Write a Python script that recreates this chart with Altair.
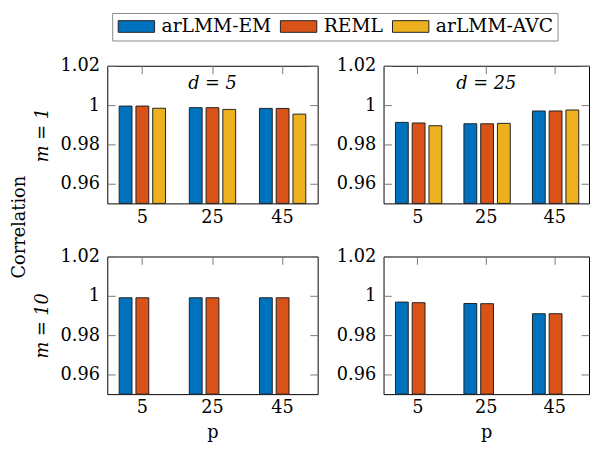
import altair as alt
import pandas as pd

FONT = "DejaVu Serif"
FS = 18
LFS = 19

p_vals = ["5", "25", "45"]
methods = ["arLMM-EM", "REML", "arLMM-AVC"]
colors = ["#0072BD", "#D95319", "#EDB120"]

# m = 1, d = 5
m1_d5_em = [0.9995, 0.9987, 0.9983]
m1_d5_reml = [0.9995, 0.9987, 0.9983]
m1_d5_avc = [0.9984, 0.9978, 0.9954]
# m = 1, d = 25
m1_d25_em = [0.9912, 0.9905, 0.9970]
m1_d25_reml = [0.9909, 0.9905, 0.9970]
m1_d25_avc = [0.9895, 0.9907, 0.9975]
# m = 10, d = 5
m10_d5_em = [0.9990, 0.9990, 0.9990]
m10_d5_reml = [0.9990, 0.9990, 0.9990]
# m = 10, d = 25
m10_d25_em = [0.9968, 0.9961, 0.9909]
m10_d25_reml = [0.9965, 0.9960, 0.9909]

y_ticks = [0.96, 0.98, 1.0, 1.02]
y_domain = [0.95, 1.02]

H = 140


def panel(series, width, label, ytitle, xtitle, pin, pout):
    rows = []
    for name, vals in series:
        for p, v in zip(p_vals, vals):
            rows.append({"p": p, "method": name, "value": v})
    df = pd.DataFrame(rows)
    present = [s[0] for s in series]

    xscale = alt.Scale(domain=p_vals, paddingInner=0, paddingOuter=0)
    yscale = alt.Scale(domain=y_domain, zero=False, nice=False)

    xaxis_kw = dict(orient="bottom", offset=-8, tickSize=8, domain=False,
                    labelAngle=0, labelPadding=5, titlePadding=7)
    xaxis_kw["title"] = "p" if xtitle else None
    yaxis_kw = dict(orient="left", offset=-8, tickSize=8, domain=False,
                    values=y_ticks, format=".3~g", labelPadding=8,
                    titlePadding=9, titleFontStyle="italic")
    yaxis_kw["title"] = ytitle if ytitle else None

    bars = alt.Chart(df).mark_bar(stroke="#222222", strokeWidth=1).encode(
        x=alt.X("p:N", sort=p_vals, scale=xscale, axis=alt.Axis(**xaxis_kw)),
        xOffset=alt.XOffset("method:N", sort=present,
                            scale=alt.Scale(domain=present, paddingInner=pin, paddingOuter=pout)),
        y=alt.Y("value:Q", scale=yscale, axis=alt.Axis(**yaxis_kw)),
        y2=alt.datum(0.95),
        color=alt.Color("method:N", scale=alt.Scale(domain=methods, range=colors),
                        legend=alt.Legend(
                            title=None, orient="none", direction="horizontal",
                            legendX=5, legendY=-53.7,
                            symbolType="M-2.5,-0.8L2.5,-0.8L2.5,0.8L-2.5,0.8Z",
                            symbolSize=219, symbolOffset=11.1,
                            symbolStrokeColor="#222222",
                            symbolStrokeWidth=1, labelFont=FONT, labelFontSize=LFS,
                            labelOffset=16.1, columnPadding=7, padding=4,
                            strokeColor="#888888", fillColor="white",
                            labelColor="black")),
    )
    mirror = alt.Chart(df).mark_point(opacity=0).encode(
        x=alt.X("p:N", sort=p_vals, scale=xscale,
                axis=alt.Axis(orient="top", offset=-8, tickSize=8, domain=False,
                              labels=False, title=None)),
        y=alt.Y("value:Q", scale=yscale,
                axis=alt.Axis(orient="right", offset=-8, tickSize=8, domain=False,
                              labels=False, title=None, values=y_ticks)),
    )
    layers = [bars, mirror]
    if label:
        txt = alt.Chart(pd.DataFrame({"t": [label]})).mark_text(
            font=FONT, fontSize=FS, fontStyle="italic", baseline="alphabetic",
            align="center", color="black").encode(
            text="t:N", x=alt.value(width / 2), y=alt.value(23.3))
        layers.append(txt)
    return alt.layer(*layers).resolve_axis(x="independent", y="independent").properties(
        width=width, height=H)


tl = panel([("arLMM-EM", m1_d5_em), ("REML", m1_d5_reml), ("arLMM-AVC", m1_d5_avc)],
           214, "d = 5", "m = 1", False, 0.235, 0.71)
tr = panel([("arLMM-EM", m1_d25_em), ("REML", m1_d25_reml), ("arLMM-AVC", m1_d25_avc)],
           209, "d = 25", None, False, 0.235, 0.71)
bl = panel([("arLMM-EM", m10_d5_em), ("REML", m10_d5_reml)],
           214, None, "m = 10", True, 0.22, 0.79)
br = panel([("arLMM-EM", m10_d25_em), ("REML", m10_d25_reml)],
           209, None, None, True, 0.22, 0.79)

chart = alt.concat(
    tl, tr, bl, br, columns=2,
    spacing=alt.RowColnumber(row=54, column=67),
    bounds="flush",
    title=alt.TitleParams("Correlation", orient="left", anchor="middle",
                          font=FONT, fontSize=FS, fontWeight="normal",
                          color="black", offset=4.5),
).configure(
    padding={"left": 2, "top": 0, "right": 0, "bottom": 0},
).configure_view(
    stroke="black", strokeWidth=1,
).configure_axis(
    labelFont=FONT, labelFontSize=FS, labelColor="black",
    titleFont=FONT, titleFontSize=FS, titleFontWeight="normal", titleColor="black",
    tickColor="#777777", tickWidth=1, grid=False,
)

chart.save("out.html", embed_options={"renderer": "svg", "actions": False})
